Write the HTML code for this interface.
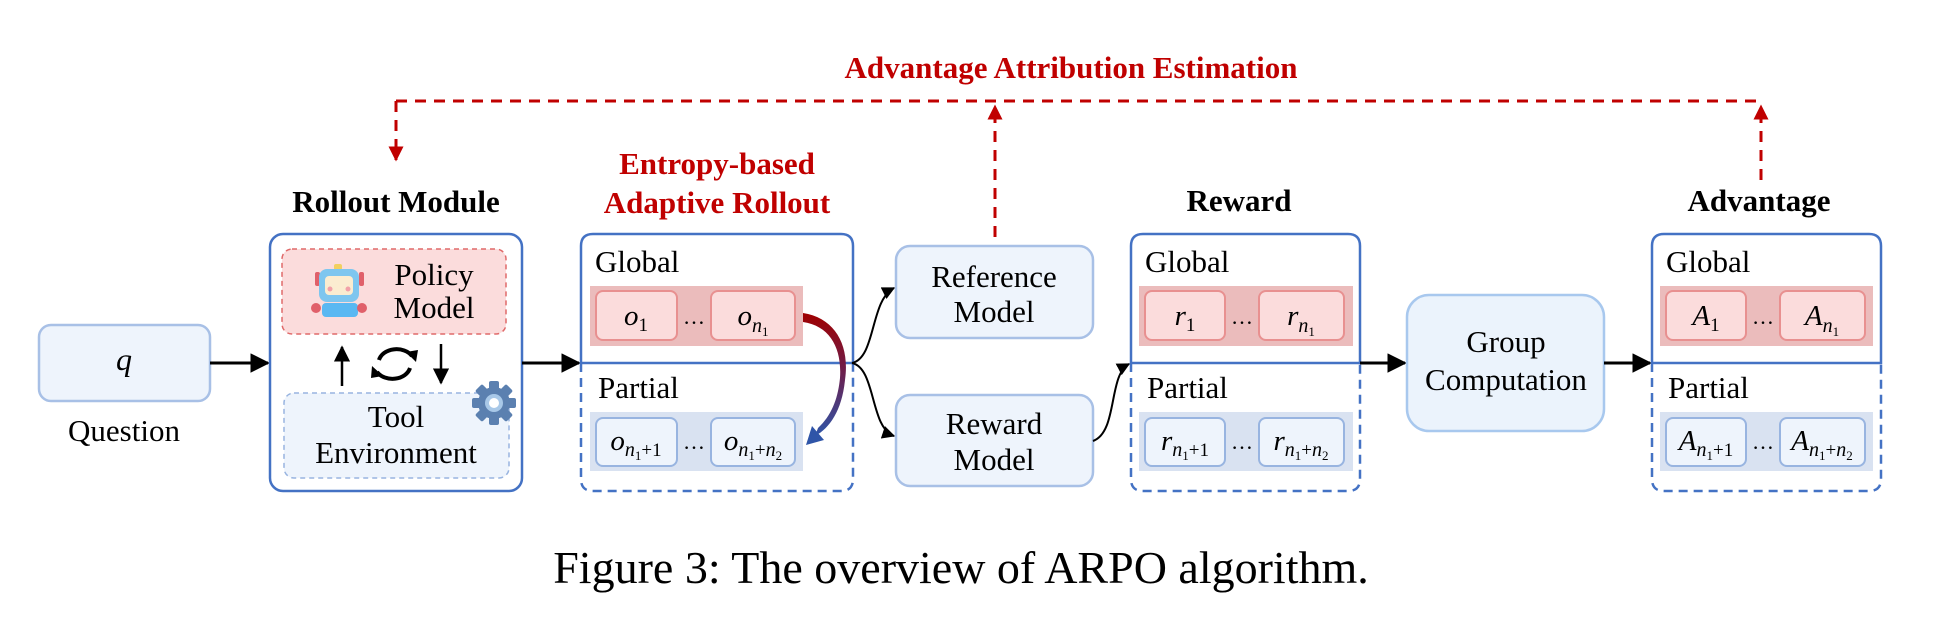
<!DOCTYPE html>
<html><head><meta charset="utf-8"><style>
html,body{margin:0;padding:0;background:#fff;}
svg{display:block;}
text{font-family:"Liberation Serif",serif;}
.lbl{font-size:31px;fill:#000;}
.b{font-weight:bold;font-size:31px;}
.m{font-style:italic;font-size:29px;}
.s{font-size:19px;}
</style></head><body>
<svg width="1938" height="620" viewBox="0 0 1938 620" xmlns="http://www.w3.org/2000/svg">
<defs>
<marker id="ah" viewBox="0 0 10 10" refX="9" refY="5" markerWidth="6.5" markerHeight="6.5" orient="auto"><path d="M0,0 L10,5 L0,10 z" fill="#000"/></marker>
<marker id="rh" viewBox="0 0 10 10" refX="9" refY="5" markerWidth="5" markerHeight="5" orient="auto"><path d="M0,0 L10,5 L0,10 z" fill="#c00000"/></marker>
<linearGradient id="gr" x1="0" y1="0" x2="0" y2="1"><stop offset="0" stop-color="#a00000"/><stop offset="0.5" stop-color="#6a2050"/><stop offset="1" stop-color="#2f55a8"/></linearGradient>
</defs>

<text x="1071" y="78" text-anchor="middle" class="b" fill="#c00000" style="font-size:31px">Advantage Attribution Estimation</text>
<g stroke="#c00000" stroke-width="3" fill="none" stroke-dasharray="11,8">
<path d="M396,101 H1761"/>
<path d="M396,101 V160" marker-end="url(#rh)"/>
<path d="M995,237 V106" marker-end="url(#rh)"/>
<path d="M1761,180 V106" marker-end="url(#rh)"/>
</g>

<rect x="39" y="325" width="171" height="76" rx="12" fill="#eef4fc" stroke="#a8c0e6" stroke-width="2.5"/>
<text x="124" y="370" text-anchor="middle" class="m" style="font-size:32px">q</text>
<text x="124" y="441" text-anchor="middle" class="lbl">Question</text>
<path d="M210,363 H268" stroke="#000" stroke-width="3" marker-end="url(#ah)"/>

<text x="396" y="212" text-anchor="middle" class="b">Rollout Module</text>
<rect x="270" y="234" width="252" height="257" rx="13" fill="#fff" stroke="#4472c4" stroke-width="2.5"/>
<rect x="282" y="249" width="224" height="85" rx="10" fill="#fbdcdc" stroke="#e06a6a" stroke-width="1.5" stroke-dasharray="5,4"/>
<rect x="284" y="393" width="225" height="85" rx="10" fill="#eef4fc" stroke="#98b4e0" stroke-width="1.5" stroke-dasharray="5,4"/>
<g>
<rect x="334" y="264" width="8" height="6" rx="2" fill="#f2d060"/>
<rect x="315" y="272" width="5" height="14" rx="2" fill="#e0606a"/>
<rect x="359" y="272" width="5" height="14" rx="2" fill="#e0606a"/>
<rect x="319" y="269" width="40" height="33" rx="8" fill="#7ec6ef"/>
<rect x="325" y="276" width="28" height="19" rx="4" fill="#fbecd0"/>
<circle cx="330" cy="289" r="2.5" fill="#f2a0a8"/><circle cx="348" cy="289" r="2.5" fill="#f2a0a8"/>
<rect x="322" y="303" width="36" height="14" rx="4" fill="#5ab8f2"/>
<circle cx="316" cy="308" r="5" fill="#e0606a"/><circle cx="362" cy="308" r="5" fill="#e0606a"/>
</g>
<text x="434" y="285" text-anchor="middle" class="lbl">Policy</text>
<text x="434" y="318" text-anchor="middle" class="lbl">Model</text>
<path d="M342,386 V347" stroke="#000" stroke-width="2.5" marker-end="url(#ah)"/>
<path d="M441,344 V383" stroke="#000" stroke-width="2.5" marker-end="url(#ah)"/>
<g fill="none" stroke="#000" stroke-width="4">
<path d="M379,360 A18,14 0 0 1 412,356"/>
<path d="M410,368 A18,14 0 0 1 377,372"/>
</g>
<path d="M406,352 L416,362 L418,350 z" fill="#000"/>
<path d="M383,376 L372,366 L371,378 z" fill="#000"/>
<g transform="translate(494,403)" fill="#5b80b0">
<circle r="16"/>
<g><rect x="-5" y="-22" width="10" height="44" rx="2"/><rect x="-5" y="-22" width="10" height="44" rx="2" transform="rotate(45)"/><rect x="-5" y="-22" width="10" height="44" rx="2" transform="rotate(90)"/><rect x="-5" y="-22" width="10" height="44" rx="2" transform="rotate(135)"/></g>
<circle r="9" fill="#a8c8e8"/><circle r="5" fill="#fff"/>
</g>
<text x="396" y="427" text-anchor="middle" class="lbl">Tool</text>
<text x="396" y="463" text-anchor="middle" class="lbl">Environment</text>
<path d="M522,363 H579" stroke="#000" stroke-width="3" marker-end="url(#ah)"/>

<text x="717" y="174" text-anchor="middle" class="b" fill="#c00000">Entropy-based</text>
<text x="717" y="213" text-anchor="middle" class="b" fill="#c00000">Adaptive Rollout</text>
<path d="M581,363 V246 Q581,234 593,234 H841 Q853,234 853,246 V363 Z" fill="#fff" stroke="#4472c4" stroke-width="2.5"/>
<path d="M581,363 V479 Q581,491 593,491 H841 Q853,491 853,479 V363" fill="none" stroke="#4472c4" stroke-width="2.5" stroke-dasharray="9,6"/>
<text x="595" y="272" class="lbl">Global</text>
<text x="598" y="398" class="lbl">Partial</text>
<rect x="590" y="286" width="213" height="60" fill="#ebbcbc"/>
<rect x="596" y="291" width="81" height="49" rx="7" fill="#fbdcdc" stroke="#e89090" stroke-width="2"/>
<rect x="711" y="291" width="84" height="49" rx="7" fill="#fbdcdc" stroke="#e89090" stroke-width="2"/>
<text x="694" y="324" text-anchor="middle" style="font-size:22px">…</text>
<rect x="590" y="412" width="213" height="59" fill="#d9e2f1"/>
<rect x="596" y="418" width="81" height="48" rx="7" fill="#eef4fc" stroke="#98b4e0" stroke-width="2"/>
<rect x="711" y="418" width="84" height="48" rx="7" fill="#eef4fc" stroke="#98b4e0" stroke-width="2"/>
<text x="694" y="449" text-anchor="middle" style="font-size:22px">…</text>
<text x="636" y="325" text-anchor="middle"><tspan class="m">o</tspan><tspan class="s" dy="6">1</tspan></text>
<text x="753" y="325" text-anchor="middle"><tspan class="m">o</tspan><tspan class="m" style="font-size:20px" dy="7">n</tspan><tspan style="font-size:13px" dy="4">1</tspan></text>
<text x="636" y="450" text-anchor="middle"><tspan class="m">o</tspan><tspan class="m" style="font-size:20px" dy="6">n</tspan><tspan style="font-size:13px" dy="4">1</tspan><tspan style="font-size:19px" dy="-4">+1</tspan></text>
<text x="753" y="450" text-anchor="middle"><tspan class="m">o</tspan><tspan class="m" style="font-size:20px" dy="6">n</tspan><tspan style="font-size:13px" dy="4">1</tspan><tspan style="font-size:19px" dy="-4">+</tspan><tspan class="m" style="font-size:20px">n</tspan><tspan style="font-size:13px" dy="4">2</tspan></text>
<path d="M803,313 C835,318 850,345 845,380 C842,410 830,428 815,436 L818,428 C832,415 838,398 840,378 C842,348 830,326 803,322 Z" fill="url(#gr)"/>
<path d="M806,445 L812,426 L824,440 Z" fill="#2f55a8"/>

<path d="M852,363 C876,358 870,300 894,288" fill="none" stroke="#000" stroke-width="2" marker-end="url(#ah)"/>
<path d="M852,363 C876,368 870,428 894,436" fill="none" stroke="#000" stroke-width="2" marker-end="url(#ah)"/>
<rect x="896" y="246" width="197" height="92" rx="14" fill="#eef4fc" stroke="#a8c0e6" stroke-width="2.5"/>
<text x="994" y="287" text-anchor="middle" class="lbl">Reference</text>
<text x="994" y="322" text-anchor="middle" class="lbl">Model</text>
<rect x="896" y="395" width="197" height="91" rx="14" fill="#eef4fc" stroke="#a8c0e6" stroke-width="2.5"/>
<text x="994" y="434" text-anchor="middle" class="lbl">Reward</text>
<text x="994" y="470" text-anchor="middle" class="lbl">Model</text>
<path d="M1093,441 C1118,432 1108,375 1129,364" fill="none" stroke="#000" stroke-width="2" marker-end="url(#ah)"/>

<text x="1239" y="211" text-anchor="middle" class="b">Reward</text>
<path d="M1131,363 V246 Q1131,234 1143,234 H1348 Q1360,234 1360,246 V363 Z" fill="#fff" stroke="#4472c4" stroke-width="2.5"/>
<path d="M1131,363 V479 Q1131,491 1143,491 H1348 Q1360,491 1360,479 V363" fill="none" stroke="#4472c4" stroke-width="2.5" stroke-dasharray="9,6"/>
<text x="1145" y="272" class="lbl">Global</text>
<text x="1147" y="398" class="lbl">Partial</text>
<rect x="1139" y="286" width="214" height="60" fill="#ebbcbc"/>
<rect x="1145" y="291" width="80" height="49" rx="7" fill="#fbdcdc" stroke="#e89090" stroke-width="2"/>
<rect x="1259" y="291" width="85" height="49" rx="7" fill="#fbdcdc" stroke="#e89090" stroke-width="2"/>
<text x="1242" y="324" text-anchor="middle" style="font-size:22px">…</text>
<rect x="1139" y="412" width="214" height="59" fill="#d9e2f1"/>
<rect x="1145" y="418" width="80" height="48" rx="7" fill="#eef4fc" stroke="#98b4e0" stroke-width="2"/>
<rect x="1259" y="418" width="85" height="48" rx="7" fill="#eef4fc" stroke="#98b4e0" stroke-width="2"/>
<text x="1242" y="449" text-anchor="middle" style="font-size:22px">…</text>
<text x="1185" y="325" text-anchor="middle"><tspan class="m">r</tspan><tspan class="s" dy="6">1</tspan></text>
<text x="1301" y="325" text-anchor="middle"><tspan class="m">r</tspan><tspan class="m" style="font-size:20px" dy="7">n</tspan><tspan style="font-size:13px" dy="4">1</tspan></text>
<text x="1185" y="450" text-anchor="middle"><tspan class="m">r</tspan><tspan class="m" style="font-size:20px" dy="6">n</tspan><tspan style="font-size:13px" dy="4">1</tspan><tspan style="font-size:19px" dy="-4">+1</tspan></text>
<text x="1301" y="450" text-anchor="middle"><tspan class="m">r</tspan><tspan class="m" style="font-size:20px" dy="6">n</tspan><tspan style="font-size:13px" dy="4">1</tspan><tspan style="font-size:19px" dy="-4">+</tspan><tspan class="m" style="font-size:20px">n</tspan><tspan style="font-size:13px" dy="4">2</tspan></text>
<path d="M1360,363 H1405" stroke="#000" stroke-width="3" marker-end="url(#ah)"/>

<rect x="1407" y="295" width="197" height="136" rx="22" fill="#ebf3fc" stroke="#a8c8ee" stroke-width="2.5"/>
<text x="1506" y="352" text-anchor="middle" class="lbl">Group</text>
<text x="1506" y="390" text-anchor="middle" class="lbl">Computation</text>
<path d="M1604,363 H1650" stroke="#000" stroke-width="3" marker-end="url(#ah)"/>

<text x="1759" y="211" text-anchor="middle" class="b">Advantage</text>
<path d="M1652,363 V246 Q1652,234 1664,234 H1869 Q1881,234 1881,246 V363 Z" fill="#fff" stroke="#4472c4" stroke-width="2.5"/>
<path d="M1652,363 V479 Q1652,491 1664,491 H1869 Q1881,491 1881,479 V363" fill="none" stroke="#4472c4" stroke-width="2.5" stroke-dasharray="9,6"/>
<text x="1666" y="272" class="lbl">Global</text>
<text x="1668" y="398" class="lbl">Partial</text>
<rect x="1660" y="286" width="213" height="60" fill="#ebbcbc"/>
<rect x="1666" y="291" width="80" height="49" rx="7" fill="#fbdcdc" stroke="#e89090" stroke-width="2"/>
<rect x="1780" y="291" width="85" height="49" rx="7" fill="#fbdcdc" stroke="#e89090" stroke-width="2"/>
<text x="1763" y="324" text-anchor="middle" style="font-size:22px">…</text>
<rect x="1660" y="412" width="213" height="59" fill="#d9e2f1"/>
<rect x="1666" y="418" width="80" height="48" rx="7" fill="#eef4fc" stroke="#98b4e0" stroke-width="2"/>
<rect x="1780" y="418" width="85" height="48" rx="7" fill="#eef4fc" stroke="#98b4e0" stroke-width="2"/>
<text x="1763" y="449" text-anchor="middle" style="font-size:22px">…</text>
<text x="1706" y="325" text-anchor="middle"><tspan class="m">A</tspan><tspan class="s" dy="6">1</tspan></text>
<text x="1822" y="325" text-anchor="middle"><tspan class="m">A</tspan><tspan class="m" style="font-size:20px" dy="7">n</tspan><tspan style="font-size:13px" dy="4">1</tspan></text>
<text x="1706" y="450" text-anchor="middle"><tspan class="m">A</tspan><tspan class="m" style="font-size:20px" dy="6">n</tspan><tspan style="font-size:13px" dy="4">1</tspan><tspan style="font-size:19px" dy="-4">+1</tspan></text>
<text x="1822" y="450" text-anchor="middle"><tspan class="m">A</tspan><tspan class="m" style="font-size:20px" dy="6">n</tspan><tspan style="font-size:13px" dy="4">1</tspan><tspan style="font-size:19px" dy="-4">+</tspan><tspan class="m" style="font-size:20px">n</tspan><tspan style="font-size:13px" dy="4">2</tspan></text>

<text x="961" y="583" text-anchor="middle" style="font-size:46px">Figure 3: The overview of ARPO algorithm.</text>
</svg>
</body></html>
